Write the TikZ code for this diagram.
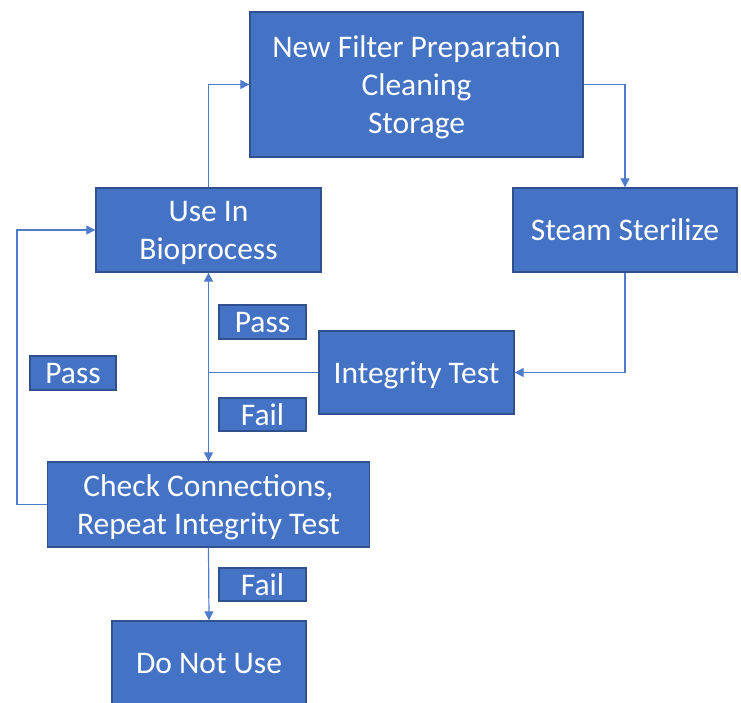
\documentclass[tikz,border=0pt]{standalone}
\usepackage{fontspec}
\setmainfont{Carlito}
\usetikzlibrary{arrows.meta}
\definecolor{boxfill}{HTML}{4472C4}
\definecolor{boxline}{HTML}{2F528F}
\definecolor{conn}{HTML}{4F7BCB}
\begin{document}
\begin{tikzpicture}[x=1pt,y=-1pt,
  box/.style={draw=boxline, line width=1.3pt, fill=boxfill, text=white,
    align=center, inner sep=0pt, text depth=0pt, font=\fontsize{31.5}{38}\selectfont},
  tag/.style={box, line width=1.2pt},
  arr/.style={draw=conn, line width=1.2pt, -{Triangle[length=9pt,width=9pt]}},
  ln/.style={draw=conn, line width=1.2pt}]
\useasboundingbox (0,0) rectangle (741,702);
\node[box, minimum width=333pt, minimum height=145pt] (nf) at (416.5,84.5)
  {New Filter Preparation\\Cleaning\\Storage};
\node[box, minimum width=225pt, minimum height=84pt] (use) at (208.5,230)
  {Use In\\Bioprocess};
\node[box, minimum width=224pt, minimum height=84pt] (steam) at (625,230)
  {Steam Sterilize};
\node[box, minimum width=195pt, minimum height=83pt] (integ) at (416.5,372.5)
  {Integrity Test};
\node[box, minimum width=322pt, minimum height=85pt] (check) at (208.5,504.5)
  {Check Connections,\\Repeat Integrity Test};
\node[box, minimum width=194pt, minimum height=84pt] (dnu) at (209,663)
  {Do Not Use};
\node[tag, minimum width=87pt, minimum height=34pt] (pass1) at (262.5,322) {Pass};
\node[tag, minimum width=86pt, minimum height=34pt] (pass2) at (73,373) {Pass};
\node[tag, minimum width=87pt, minimum height=33pt] (fail1) at (262.5,414.5) {Fail};
\node[tag, minimum width=87pt, minimum height=33pt] (fail2) at (262.5,584.5) {Fail};
\coordinate (j) at (use.south |- integ.west);
\coordinate (l) at (17,504.5);
\draw[arr] (use.north) |- (nf.west);
\draw[arr] (nf.east) -| (steam.north);
\draw[arr] (steam.south) |- (integ.east);
\draw[ln] (integ.west) -- (j);
\draw[arr] (j) -- (use.south);
\draw[arr] (j) -- (check.north);
\draw[arr] (check.west) -- (l) |- (use.west);
\draw[arr] (check.south) -- (dnu.north);
\end{tikzpicture}
\end{document}
